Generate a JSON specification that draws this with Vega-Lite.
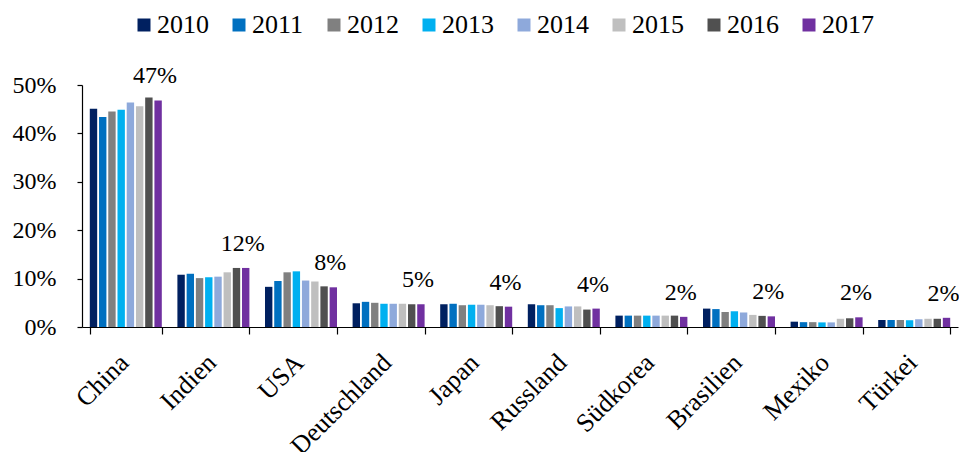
{
  "$schema": "https://vega.github.io/schema/vega-lite/v6.json",
  "width": 876,
  "height": 242,
  "autosize": {"type": "none"},
  "padding": {"left": 82, "top": 85, "right": 1, "bottom": 125},
  "background": "white",
  "config": {
    "font": "Liberation Serif",
    "view": {"stroke": null},
    "axis": {"grid": false, "domainColor": "black", "tickColor": "black", "labelColor": "black", "labelFont": "Liberation Serif", "title": null}
  },
  "data": {"values": [
    {"c":"China","y":"2010","v":0.451},{"c":"China","y":"2011","v":0.434},{"c":"China","y":"2012","v":0.445},{"c":"China","y":"2013","v":0.449},{"c":"China","y":"2014","v":0.464},{"c":"China","y":"2015","v":0.456},{"c":"China","y":"2016","v":0.474},{"c":"China","y":"2017","v":0.468},
    {"c":"Indien","y":"2010","v":0.108},{"c":"Indien","y":"2011","v":0.110},{"c":"Indien","y":"2012","v":0.101},{"c":"Indien","y":"2013","v":0.103},{"c":"Indien","y":"2014","v":0.104},{"c":"Indien","y":"2015","v":0.113},{"c":"Indien","y":"2016","v":0.122},{"c":"Indien","y":"2017","v":0.122},
    {"c":"USA","y":"2010","v":0.083},{"c":"USA","y":"2011","v":0.095},{"c":"USA","y":"2012","v":0.113},{"c":"USA","y":"2013","v":0.115},{"c":"USA","y":"2014","v":0.096},{"c":"USA","y":"2015","v":0.094},{"c":"USA","y":"2016","v":0.084},{"c":"USA","y":"2017","v":0.082},
    {"c":"Deutschland","y":"2010","v":0.049},{"c":"Deutschland","y":"2011","v":0.052},{"c":"Deutschland","y":"2012","v":0.050},{"c":"Deutschland","y":"2013","v":0.048},{"c":"Deutschland","y":"2014","v":0.048},{"c":"Deutschland","y":"2015","v":0.048},{"c":"Deutschland","y":"2016","v":0.047},{"c":"Deutschland","y":"2017","v":0.047},
    {"c":"Japan","y":"2010","v":0.047},{"c":"Japan","y":"2011","v":0.048},{"c":"Japan","y":"2012","v":0.045},{"c":"Japan","y":"2013","v":0.046},{"c":"Japan","y":"2014","v":0.046},{"c":"Japan","y":"2015","v":0.045},{"c":"Japan","y":"2016","v":0.043},{"c":"Japan","y":"2017","v":0.042},
    {"c":"Russland","y":"2010","v":0.047},{"c":"Russland","y":"2011","v":0.045},{"c":"Russland","y":"2012","v":0.045},{"c":"Russland","y":"2013","v":0.039},{"c":"Russland","y":"2014","v":0.0425},{"c":"Russland","y":"2015","v":0.0425},{"c":"Russland","y":"2016","v":0.036},{"c":"Russland","y":"2017","v":0.038},
    {"c":"Südkorea","y":"2010","v":0.0235},{"c":"Südkorea","y":"2011","v":0.0235},{"c":"Südkorea","y":"2012","v":0.0235},{"c":"Südkorea","y":"2013","v":0.0235},{"c":"Südkorea","y":"2014","v":0.0235},{"c":"Südkorea","y":"2015","v":0.0235},{"c":"Südkorea","y":"2016","v":0.0235},{"c":"Südkorea","y":"2017","v":0.021},
    {"c":"Brasilien","y":"2010","v":0.038},{"c":"Brasilien","y":"2011","v":0.037},{"c":"Brasilien","y":"2012","v":0.031},{"c":"Brasilien","y":"2013","v":0.0325},{"c":"Brasilien","y":"2014","v":0.030},{"c":"Brasilien","y":"2015","v":0.025},{"c":"Brasilien","y":"2016","v":0.023},{"c":"Brasilien","y":"2017","v":0.022},
    {"c":"Mexiko","y":"2010","v":0.011},{"c":"Mexiko","y":"2011","v":0.010},{"c":"Mexiko","y":"2012","v":0.010},{"c":"Mexiko","y":"2013","v":0.0095},{"c":"Mexiko","y":"2014","v":0.0095},{"c":"Mexiko","y":"2015","v":0.017},{"c":"Mexiko","y":"2016","v":0.018},{"c":"Mexiko","y":"2017","v":0.020},
    {"c":"Türkei","y":"2010","v":0.0145},{"c":"Türkei","y":"2011","v":0.0145},{"c":"Türkei","y":"2012","v":0.0145},{"c":"Türkei","y":"2013","v":0.014},{"c":"Türkei","y":"2014","v":0.016},{"c":"Türkei","y":"2015","v":0.017},{"c":"Türkei","y":"2016","v":0.017},{"c":"Türkei","y":"2017","v":0.019}
  ]},
  "encoding": {
    "x": {
      "field": "c", "type": "nominal",
      "scale": {"domain": ["China","Indien","USA","Deutschland","Japan","Russland","Südkorea","Brasilien","Mexiko","Türkei"], "paddingInner": 0.178, "paddingOuter": 0.089},
      "axis": {"labelAngle": -45, "labelFontSize": 26, "tickBand": "extent", "tickSize": 7, "labelPadding": 15, "labelOffset": -11, "domainWidth": 1.2, "tickWidth": 1.2}
    },
    "xOffset": {"field": "y", "type": "nominal", "scale": {"paddingInner": 0.2, "paddingOuter": 0}},
    "y": {
      "field": "v", "type": "quantitative",
      "scale": {"domain": [0, 0.5], "nice": false},
      "axis": {"format": ".0%", "values": [0, 0.1, 0.2, 0.3, 0.4, 0.5], "labelFontSize": 24, "tickSize": 5, "labelPadding": 21, "domainWidth": 1.2, "tickWidth": 1.2}
    }
  },
  "layer": [
    {
      "mark": {"type": "bar"},
      "encoding": {
        "color": {
          "field": "y", "type": "nominal",
          "scale": {"domain": ["2010","2011","2012","2013","2014","2015","2016","2017"], "range": ["#002060","#0070C0","#808080","#00B0F0","#8EA9DB","#BFBFBF","#505050","#7030A0"]},
          "legend": {"title": null, "orient": "none", "legendX": 49, "legendY": -73, "direction": "horizontal", "columns": 8, "symbolType": "square", "symbolSize": 169, "symbolStrokeWidth": 0, "symbolOpacity": 1, "labelFontSize": 26, "labelFont": "Liberation Serif", "labelColor": "black", "labelOffset": 0, "columnPadding": 17}
        }
      }
    },
    {
      "transform": [{"filter": "datum.y == '2017'"}],
      "mark": {"type": "text", "fontSize": 24, "baseline": "alphabetic", "dy": -17, "dx": -3, "color": "black"},
      "encoding": {"text": {"field": "v", "type": "quantitative", "format": ".0%"}}
    }
  ]
}
